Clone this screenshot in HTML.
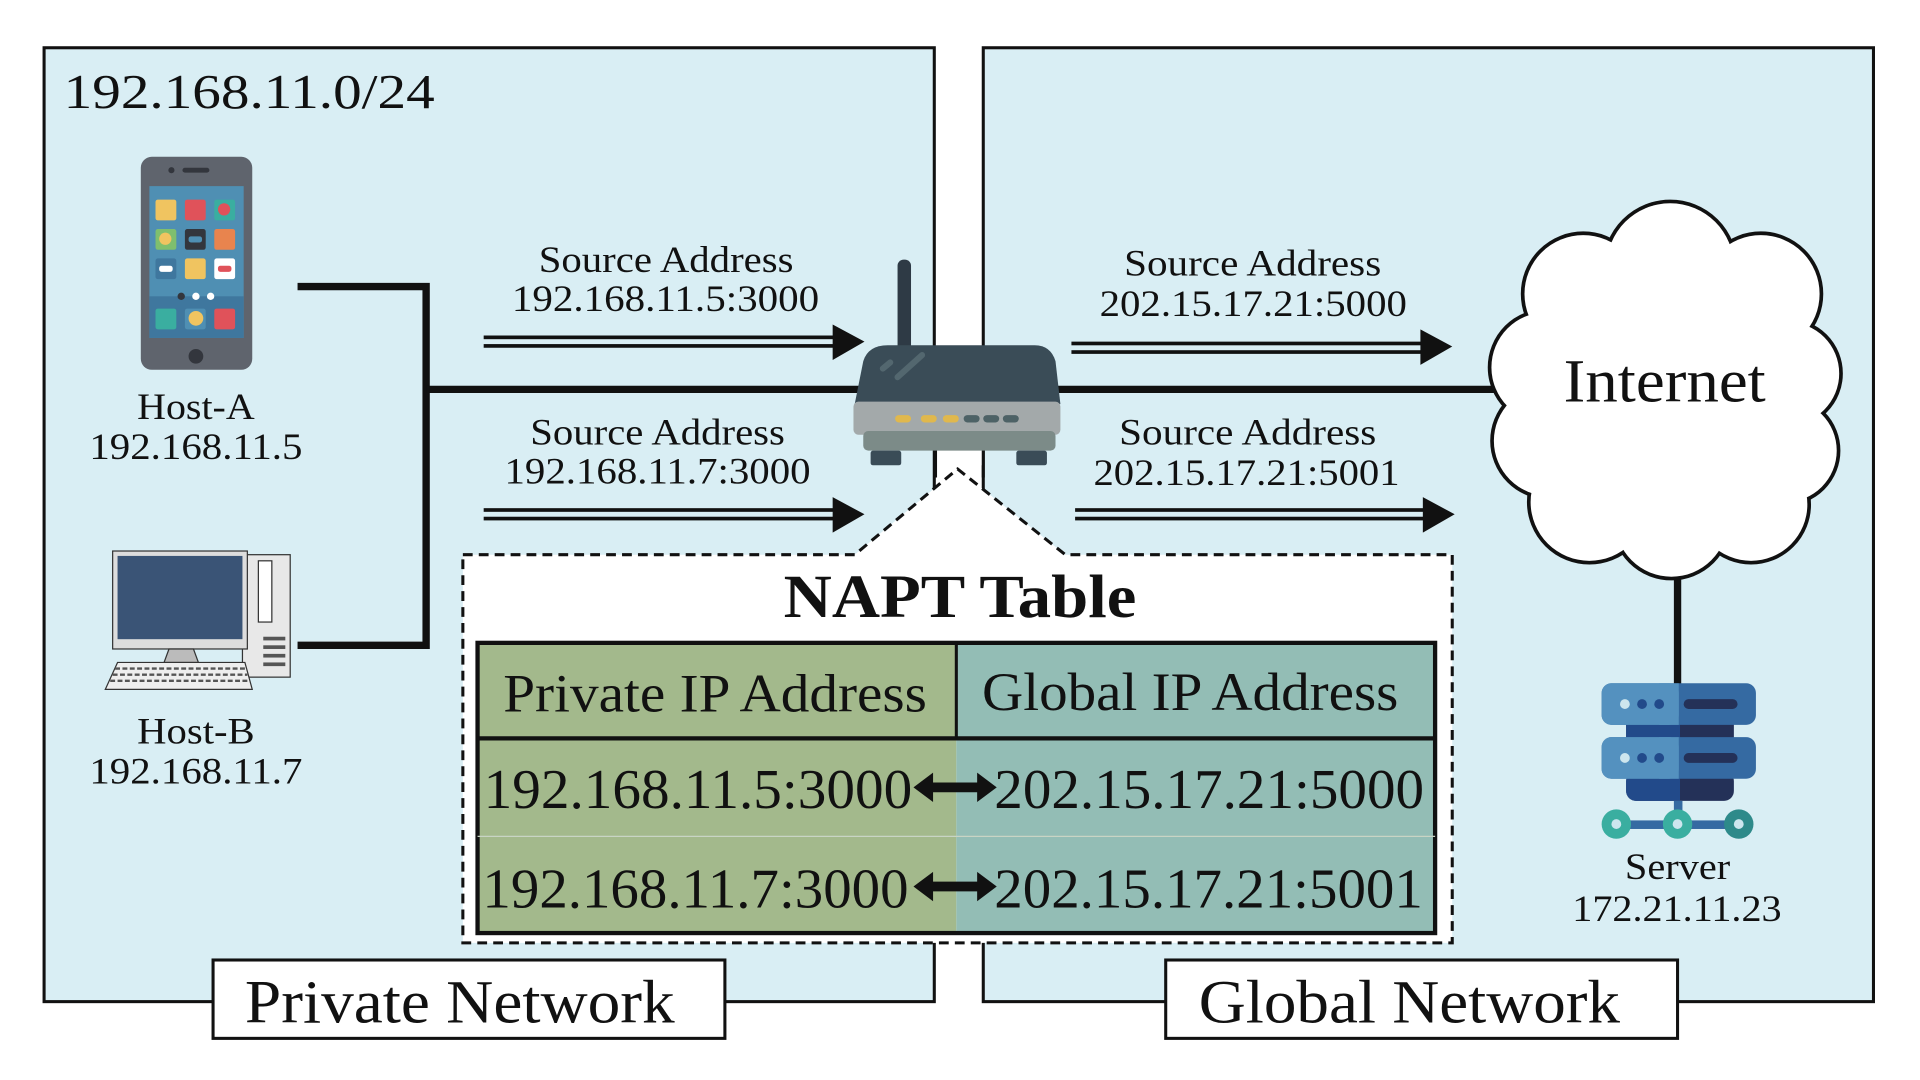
<!DOCTYPE html>
<html><head><meta charset="utf-8"><style>html,body{margin:0;padding:0;background:#fff}svg{display:block}text{font-family:"Liberation Serif",serif;fill:#111}</style></head><body>
<svg width="1920" height="1080" viewBox="0 0 1568 882" preserveAspectRatio="none" xmlns="http://www.w3.org/2000/svg">
<rect width="1568" height="882" fill="#fff"/>
<rect x="36" y="39" width="727" height="779" fill="#d9eef4" stroke="#111" stroke-width="2.5"/>
<rect x="803" y="39" width="727" height="779" fill="#d9eef4" stroke="#111" stroke-width="2.5"/>
<text x="52" y="88" font-size="40" textLength="303" lengthAdjust="spacingAndGlyphs">192.168.11.0/24</text>

<!-- phone -->
<rect x="115" y="128" width="91" height="174" rx="9" fill="#5f646d"/>
<rect x="122" y="152" width="77" height="124" fill="#4f8fb3"/>
<rect x="122" y="242" width="77" height="34" fill="#3f779e"/>
<circle cx="140" cy="139" r="2.5" fill="#33363d"/><rect x="149" y="137" width="22" height="4" rx="2" fill="#33363d"/>
<circle cx="160" cy="291" r="6" fill="#33363d"/>
<rect x="127" y="163" width="17" height="17" rx="2" fill="#f0c460"/><rect x="151" y="163" width="17" height="17" rx="2" fill="#e0525a"/><rect x="175" y="163" width="17" height="17" rx="2" fill="#3aaea0"/><circle cx="183" cy="171" r="5" fill="#e0525a"/>
<rect x="127" y="187" width="17" height="17" rx="2" fill="#7fbf6e"/><circle cx="135" cy="195" r="5" fill="#f0c460"/><rect x="151" y="187" width="17" height="17" rx="2" fill="#33363d"/><rect x="154" y="193" width="11" height="5" rx="2" fill="#4f8fb3"/><rect x="175" y="187" width="17" height="17" rx="2" fill="#e8844e"/>
<rect x="127" y="211" width="17" height="17" rx="2" fill="#3f779e"/><rect x="130" y="217" width="11" height="5" rx="2" fill="#fff"/><rect x="151" y="211" width="17" height="17" rx="2" fill="#f0c460"/><rect x="175" y="211" width="17" height="17" rx="2" fill="#fff"/><rect x="178" y="217" width="11" height="5" rx="2" fill="#e0525a"/>
<circle cx="148" cy="242" r="3" fill="#33363d"/><circle cx="160" cy="242" r="3" fill="#fff"/><circle cx="172" cy="242" r="3" fill="#fff"/>
<rect x="127" y="252" width="17" height="17" rx="2" fill="#3aaea0"/><rect x="151" y="252" width="17" height="17" rx="2" fill="#4f8fb3"/><circle cx="160" cy="260" r="6" fill="#f0c460"/><rect x="175" y="252" width="17" height="17" rx="2" fill="#e0525a"/>
<text x="112" y="342" font-size="30" textLength="96" lengthAdjust="spacingAndGlyphs">Host-A</text>
<text x="73" y="375" font-size="30" textLength="174" lengthAdjust="spacingAndGlyphs">192.168.11.5</text>

<!-- computer -->
<rect x="198" y="453" width="39" height="100" fill="#e8e8e8" stroke="#333" stroke-width="1"/>
<rect x="211" y="458" width="11" height="50" fill="#fff" stroke="#333" stroke-width="1"/>
<rect x="215" y="520" width="18" height="3" fill="#555"/><rect x="215" y="527" width="18" height="3" fill="#555"/><rect x="215" y="534" width="18" height="3" fill="#555"/><rect x="215" y="541" width="18" height="3" fill="#555"/>
<rect x="92" y="450" width="110" height="80" fill="#ddd" stroke="#333" stroke-width="1"/>
<rect x="96" y="454" width="102" height="68" fill="#3a5476"/>
<polygon points="138,530 158,530 162,541 134,541" fill="#bbb" stroke="#333" stroke-width="1"/>
<polygon points="96,541 200,541 206,563 86,563" fill="#eee" stroke="#333" stroke-width="1"/>
<g stroke="#555" stroke-width="2"><line x1="94" y1="546" x2="200" y2="546" stroke-dasharray="4,2"/><line x1="92" y1="551" x2="202" y2="551" stroke-dasharray="4,2"/><line x1="90" y1="556" x2="204" y2="556" stroke-dasharray="4,2"/></g>
<text x="112" y="607" font-size="30" textLength="96" lengthAdjust="spacingAndGlyphs">Host-B</text>
<text x="73" y="640" font-size="30" textLength="174" lengthAdjust="spacingAndGlyphs">192.168.11.7</text>

<!-- connection lines -->
<g stroke="#111" stroke-width="6" fill="none">
<polyline points="243,234 348,234 348,527 243,527"/>
<line x1="348" y1="318" x2="705" y2="318"/>
<line x1="860" y1="318" x2="1222" y2="318"/>
<line x1="1370" y1="468" x2="1370" y2="562"/>
</g>
<!-- white gap between boxes -->
<rect x="765" y="300" width="37" height="80" fill="#fff"/>
<line x1="764" y1="300" x2="764" y2="390" stroke="#111" stroke-width="2.5"/>
<line x1="803" y1="300" x2="803" y2="390" stroke="#111" stroke-width="2.5"/>

<!-- arrows -->
<g fill="#111">
<rect x="395" y="274" width="287" height="3"/><rect x="395" y="281" width="287" height="3"/><polygon points="680,265 706,279 680,294"/>
<rect x="395" y="415" width="287" height="3"/><rect x="395" y="422" width="287" height="3"/><polygon points="680,406 706,420 680,435"/>
<rect x="875" y="279" width="287" height="3"/><rect x="875" y="286" width="287" height="3"/><polygon points="1160,269 1186,283 1160,298"/>
<rect x="878" y="415" width="287" height="3"/><rect x="878" y="422" width="287" height="3"/><polygon points="1162,406 1188,420 1162,435"/>
</g>
<text x="440" y="222" font-size="30" textLength="208" lengthAdjust="spacingAndGlyphs">Source Address</text>
<text x="418" y="254" font-size="30" textLength="251" lengthAdjust="spacingAndGlyphs">192.168.11.5:3000</text>
<text x="433" y="363" font-size="30" textLength="208" lengthAdjust="spacingAndGlyphs">Source Address</text>
<text x="412" y="395" font-size="30" textLength="250" lengthAdjust="spacingAndGlyphs">192.168.11.7:3000</text>
<text x="918" y="225" font-size="30" textLength="210" lengthAdjust="spacingAndGlyphs">Source Address</text>
<text x="898" y="258" font-size="30" textLength="251" lengthAdjust="spacingAndGlyphs">202.15.17.21:5000</text>
<text x="914" y="363" font-size="30" textLength="210" lengthAdjust="spacingAndGlyphs">Source Address</text>
<text x="893" y="396" font-size="30" textLength="250" lengthAdjust="spacingAndGlyphs">202.15.17.21:5001</text>

<!-- router -->
<rect x="733" y="212" width="11" height="80" rx="5" fill="#2e3a45"/>
<path d="M725,282 H845 Q858,282 862,295 L866,330 H698 L705,295 Q709,282 725,282 Z" fill="#3a4c57"/>
<rect x="697" y="328" width="169" height="27" rx="4" fill="#a3a9aa"/>
<rect x="705" y="352" width="157" height="16" rx="4" fill="#7c8b88"/>
<rect x="711" y="368" width="25" height="12" rx="2" fill="#3a4c57"/><rect x="830" y="368" width="25" height="12" rx="2" fill="#3a4c57"/>
<g><rect x="731" y="339" width="13" height="6" rx="3" fill="#e0b84d"/><rect x="752" y="339" width="13" height="6" rx="3" fill="#e0b84d"/><rect x="770" y="339" width="13" height="6" rx="3" fill="#e0b84d"/><rect x="787" y="339" width="13" height="6" rx="3" fill="#4d6266"/><rect x="803" y="339" width="13" height="6" rx="3" fill="#4d6266"/><rect x="819" y="339" width="13" height="6" rx="3" fill="#4d6266"/></g>
<line x1="733" y1="308" x2="753" y2="290" stroke="#53676f" stroke-width="5" stroke-linecap="round"/>
<line x1="721" y1="301" x2="727" y2="296" stroke="#53676f" stroke-width="5" stroke-linecap="round"/>

<!-- NAPT dashed box -->
<path d="M378,453 H698 L782,383 L870,453 H1186 V770 H378 Z" fill="#fff" stroke="#111" stroke-width="2.5" stroke-dasharray="8,5"/>
<text x="640" y="504" font-size="50" font-weight="bold" textLength="288" lengthAdjust="spacingAndGlyphs">NAPT Table</text>
<rect x="390" y="525" width="391" height="237" fill="#a3b98c"/>
<rect x="781" y="525" width="391" height="237" fill="#93bdb5"/>
<rect x="390" y="525" width="782" height="237" fill="none" stroke="#111" stroke-width="3.5"/>
<line x1="390" y1="603" x2="1172" y2="603" stroke="#111" stroke-width="3.5"/>
<line x1="781" y1="525" x2="781" y2="603" stroke="#111" stroke-width="2.5"/>
<line x1="390" y1="683" x2="1172" y2="683" stroke="#c8d4c4" stroke-width="1"/>
<text x="411" y="581" font-size="44" textLength="346" lengthAdjust="spacingAndGlyphs">Private IP Address</text>
<text x="802" y="580" font-size="44" textLength="340" lengthAdjust="spacingAndGlyphs">Global IP Address</text>
<text x="395" y="660" font-size="46" textLength="350" lengthAdjust="spacingAndGlyphs">192.168.11.5:3000</text>
<text x="812" y="660" font-size="46" textLength="351" lengthAdjust="spacingAndGlyphs">202.15.17.21:5000</text>
<text x="394" y="741" font-size="46" textLength="348" lengthAdjust="spacingAndGlyphs">192.168.11.7:3000</text>
<text x="812" y="741" font-size="46" textLength="350" lengthAdjust="spacingAndGlyphs">202.15.17.21:5001</text>
<g fill="#111">
<polygon points="746,643 762,631 762,639 798,639 798,631 814,643 798,655 798,647 762,647 762,655"/>
<polygon points="746,724 762,712 762,720 798,720 798,712 814,724 798,736 798,728 762,728 762,736"/>
</g>

<!-- cloud -->
<g fill="#fff" stroke="#111" stroke-width="6">
<circle cx="1364" cy="218" r="52"/><circle cx="1293" cy="240" r="48"/><circle cx="1438" cy="240" r="48"/>
<circle cx="1263" cy="300" r="45"/><circle cx="1460" cy="305" r="42"/><circle cx="1265" cy="360" r="45"/>
<circle cx="1458" cy="368" r="42"/><circle cx="1298" cy="410" r="48"/><circle cx="1430" cy="412" r="46"/><circle cx="1365" cy="425" r="46"/>
</g>
<g fill="#fff">
<circle cx="1364" cy="218" r="52"/><circle cx="1293" cy="240" r="48"/><circle cx="1438" cy="240" r="48"/>
<circle cx="1263" cy="300" r="45"/><circle cx="1460" cy="305" r="42"/><circle cx="1265" cy="360" r="45"/>
<circle cx="1458" cy="368" r="42"/><circle cx="1298" cy="410" r="48"/><circle cx="1430" cy="412" r="46"/><circle cx="1365" cy="425" r="46"/>
<ellipse cx="1362" cy="318" rx="120" ry="130"/>
</g>
<text x="1277" y="328" font-size="50" textLength="165" lengthAdjust="spacingAndGlyphs">Internet</text>

<!-- server -->
<rect x="1328" y="590" width="88" height="20" fill="#243158"/><rect x="1328" y="590" width="44" height="20" fill="#224a8a"/>
<rect x="1328" y="630" width="88" height="24" rx="8" fill="#243158"/><rect x="1328" y="630" width="44" height="24" rx="8" fill="#224a8a"/><rect x="1356" y="630" width="16" height="24" fill="#224a8a"/>
<rect x="1308" y="558" width="126" height="34" rx="8" fill="#356aa2"/><rect x="1308" y="558" width="63" height="34" rx="8" fill="#5491bf"/><rect x="1355" y="558" width="16" height="34" fill="#5491bf"/>
<rect x="1308" y="602" width="126" height="34" rx="8" fill="#356aa2"/><rect x="1308" y="602" width="63" height="34" rx="8" fill="#5491bf"/><rect x="1355" y="602" width="16" height="34" fill="#5491bf"/>
<circle cx="1327" cy="575" r="4" fill="#cde6ee"/><circle cx="1341" cy="575" r="4" fill="#224a8a"/><circle cx="1355" cy="575" r="4" fill="#224a8a"/><rect x="1375" y="571" width="44" height="8" rx="4" fill="#243158"/>
<circle cx="1327" cy="619" r="4" fill="#cde6ee"/><circle cx="1341" cy="619" r="4" fill="#224a8a"/><circle cx="1355" cy="619" r="4" fill="#224a8a"/><rect x="1375" y="615" width="44" height="8" rx="4" fill="#243158"/>
<rect x="1367" y="654" width="7" height="16" fill="#356aa2"/>
<rect x="1320" y="670" width="102" height="7" fill="#356aa2"/>
<circle cx="1320" cy="673" r="12" fill="#3aaea0"/><circle cx="1370" cy="673" r="12" fill="#3aaea0"/><circle cx="1420" cy="673" r="12" fill="#2e8a8a"/>
<circle cx="1320" cy="673" r="4" fill="#cde6ee"/><circle cx="1370" cy="673" r="4" fill="#cde6ee"/><circle cx="1420" cy="673" r="4" fill="#cde6ee"/>
<text x="1327" y="718" font-size="30" textLength="86" lengthAdjust="spacingAndGlyphs">Server</text>
<text x="1284" y="752" font-size="30" textLength="171" lengthAdjust="spacingAndGlyphs">172.21.11.23</text>

<!-- bottom labels -->
<rect x="174" y="784" width="418" height="64" fill="#fff" stroke="#111" stroke-width="2.5"/>
<text x="200" y="835" font-size="50" textLength="351" lengthAdjust="spacingAndGlyphs">Private Network</text>
<rect x="952" y="784" width="418" height="64" fill="#fff" stroke="#111" stroke-width="2.5"/>
<text x="979" y="835" font-size="50" textLength="344" lengthAdjust="spacingAndGlyphs">Global Network</text>
</svg>
</body></html>
